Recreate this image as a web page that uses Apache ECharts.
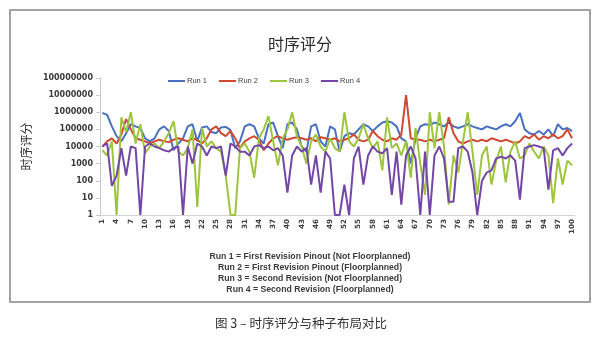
<!DOCTYPE html>
<html>
<head>
<meta charset="utf-8">
<script src="https://cdn.jsdelivr.net/npm/echarts@6/dist/echarts.min.js"></script>
<style>
  html, body { margin: 0; padding: 0; background: #ffffff; }
  #chart { width: 600px; height: 347px; }
</style>
</head>
<body>
<div id="chart"></div>
<script>
// Seed runs 1..100
const categories = Array.from({ length: 100 }, (_, i) => String(i + 1));

// Timing score per seed for each run
const run1 = [
  900000, 700000, 150000, 40000, 20000, 60000, 200000, 150000, 120000, 30000,
  20000, 30000, 100000, 150000, 80000, 6000, 15000, 30000, 150000, 200000,
  20000, 130000, 150000, 70000, 60000, 130000, 140000, 90000, 8000, 20000,
  150000, 200000, 150000, 30000, 15000, 200000, 250000, 40000, 8000, 200000,
  250000, 100000, 10000, 5000, 150000, 200000, 20000, 10000, 150000, 100000,
  5000, 40000, 60000, 50000, 100000, 200000, 150000, 80000, 150000, 250000,
  300000, 250000, 150000, 30000, 20000, 1000, 30000, 150000, 200000, 180000,
  250000, 200000, 150000, 250000, 150000, 120000, 150000, 200000, 150000, 120000,
  100000, 150000, 120000, 100000, 150000, 200000, 150000, 300000, 900000, 100000,
  60000, 50000, 80000, 50000, 100000, 40000, 200000, 100000, 120000, 80000
];
const run2 = [
  10000, 20000, 30000, 15000, 50000, 400000, 100000, 30000, 25000, 20000,
  15000, 20000, 25000, 20000, 18000, 25000, 30000, 25000, 20000, 30000,
  25000, 15000, 30000, 100000, 150000, 60000, 40000, 80000, 30000, 8000,
  20000, 30000, 40000, 25000, 6000, 15000, 30000, 40000, 30000, 25000,
  30000, 35000, 30000, 25000, 30000, 20000, 35000, 30000, 25000, 30000,
  20000, 25000, 30000, 50000, 25000, 20000, 25000, 80000, 40000, 25000,
  20000, 30000, 25000, 50000, 10000000, 30000, 25000, 25000, 20000, 25000,
  20000, 25000, 30000, 500000, 60000, 20000, 15000, 20000, 25000, 20000,
  25000, 20000, 30000, 25000, 20000, 25000, 20000, 15000, 20000, 40000,
  30000, 50000, 25000, 40000, 30000, 50000, 30000, 40000, 100000, 30000
];
const run3 = [
  6000, 3000, 20000, 1, 500000, 70000, 1000000, 15000, 200000, 4000,
  10000, 15000, 8000, 20000, 60000, 300000, 5000, 3000, 8000, 100000,
  3, 120000, 10000, 20000, 8000, 5000, 200, 1, 1, 8000,
  15000, 5000, 150, 30000, 100000, 600000, 20000, 800, 30000, 100000,
  1000000, 40000, 10000, 1000, 20000, 50000, 10000, 5000, 30000, 8000,
  5000, 1000000, 20000, 10000, 30000, 200000, 30000, 8000, 20000, 400,
  500000, 8000, 15000, 3000, 20000, 150, 120000, 1000, 15, 1000000,
  8000, 1000000, 10000, 4, 3000, 300, 20000, 1000000, 5000, 15,
  3000, 10000, 60, 1500, 10000, 80, 5000, 20000, 2000, 3000,
  15000, 5000, 2000, 10000, 3000, 5, 2000, 60, 1500, 800
];
const run4 = [
  10000, 15000, 50, 200, 8000, 200, 10000, 8000, 1, 10000,
  15000, 10000, 8000, 6000, 5000, 8000, 10000, 1, 10000, 1000,
  15000, 10000, 3000, 10000, 8000, 10000, 200, 15000, 10000, 5000,
  5000, 3000, 10000, 12000, 8000, 10000, 6000, 8000, 3000, 20,
  3000, 10000, 5000, 8000, 60, 3000, 20, 5000, 2000, 1,
  1, 60, 1, 2000, 10000, 60, 3000, 10000, 5000, 4000,
  8000, 15, 5000, 4, 3000, 10000, 2000, 1, 5000, 1,
  3000, 10000, 2000, 6, 6, 8000, 10000, 5000, 300, 1,
  100, 300, 400, 2000, 2500, 2000, 3000, 1500, 8, 8000,
  10000, 12000, 10000, 8000, 30, 6000, 8000, 3000, 8000, 15000
];

const seriesNames = ['Run 1', 'Run 2', 'Run 3', 'Run 4'];
const seriesData = [run1, run2, run3, run4];
const seriesColors = ['#4a70c2', '#cf4a30', '#9dc53e', '#7446a6'];

const footnotes = [
  'Run 1 = First Revision Pinout (Not Floorplanned)',
  'Run 2 = First Revision Pinout (Floorplanned)',
  'Run 3 = Second Revision (Not Floorplanned)',
  'Run 4 = Second Revision (Floorplanned)'
];
const caption = '图 3 – 时序评分与种子布局对比';

const chart = echarts.init(document.getElementById('chart'), null, { renderer: 'canvas' });

const footnoteGraphics = footnotes.map((t, k) => ({
  type: 'text',
  x: 310,
  y: 256.5 + k * 11,
  style: {
    text: t,
    fill: '#3a3a3a',
    font: 'bold 8.7px "Liberation Sans", Arial, sans-serif',
    textAlign: 'center',
    textVerticalAlign: 'middle'
  }
}));

chart.setOption({
  animation: false,
  backgroundColor: '#ffffff',
  title: {
    text: '时序评分',
    left: 'center',
    top: 31,
    textStyle: {
      fontFamily: '"Noto Sans CJK SC", sans-serif',
      fontSize: 16,
      fontWeight: 'normal',
      color: '#2b2b2b'
    }
  },
  legend: {
    data: seriesNames,
    left: 163,
    top: 72,
    icon: 'rect',
    itemWidth: 17,
    itemHeight: 2,
    itemGap: 12,
    textStyle: {
      fontFamily: '"Liberation Sans", Arial, sans-serif',
      fontSize: 7.5,
      color: '#404040',
      padding: [0, 0, 0, -3]
    }
  },
  grid: { left: 100, right: 25.5, top: 78, bottom: 132, containLabel: false },
  xAxis: {
    type: 'category',
    data: categories,
    boundaryGap: true,
    axisLine: { show: true, lineStyle: { color: '#d4d4d4', width: 1 } },
    axisTick: { show: false },
    axisLabel: {
      interval: 2,
      rotate: 90,
      margin: 4,
      fontFamily: '"DejaVu Sans", sans-serif',
      fontSize: 7.2,
      fontWeight: 'bold',
      color: '#404040'
    },
    splitLine: { show: false }
  },
  yAxis: {
    type: 'log',
    logBase: 10,
    min: 1,
    max: 100000000,
    name: '时序评分',
    nameLocation: 'middle',
    nameRotate: 90,
    nameGap: 60,
    nameTextStyle: {
      fontFamily: '"Noto Sans CJK SC", sans-serif',
      fontSize: 12,
      color: '#333333'
    },
    axisLine: { show: true, lineStyle: { color: '#c8c8c8', width: 1 } },
    axisTick: { show: true, length: 4, lineStyle: { color: '#c8c8c8' } },
    axisLabel: {
      margin: 7,
      fontFamily: '"DejaVu Sans", sans-serif',
      fontSize: 8,
      fontWeight: 'bold',
      color: '#3a3a3a',
      formatter: v => String(Math.round(v))
    },
    splitLine: { show: false },
    minorTick: { show: false }
  },
  series: seriesNames.map((name, k) => ({
    name,
    type: 'line',
    data: seriesData[k],
    showSymbol: false,
    symbol: 'none',
    lineStyle: { color: seriesColors[k], width: 2 },
    itemStyle: { color: seriesColors[k] },
    z: 2 + k
  })),
  graphic: [
    {
      type: 'rect',
      shape: { x: 10, y: 10, width: 580, height: 292 },
      style: { fill: 'none', stroke: '#a3a3a3', lineWidth: 2 },
      silent: true
    },
    ...footnoteGraphics,
    {
      type: 'text',
      x: 301,
      y: 323,
      style: {
        text: caption,
        fill: '#333333',
        font: '12.5px "Noto Sans CJK SC", sans-serif',
        textAlign: 'center',
        textVerticalAlign: 'middle'
      }
    }
  ]
});
</script>
</body>
</html>
